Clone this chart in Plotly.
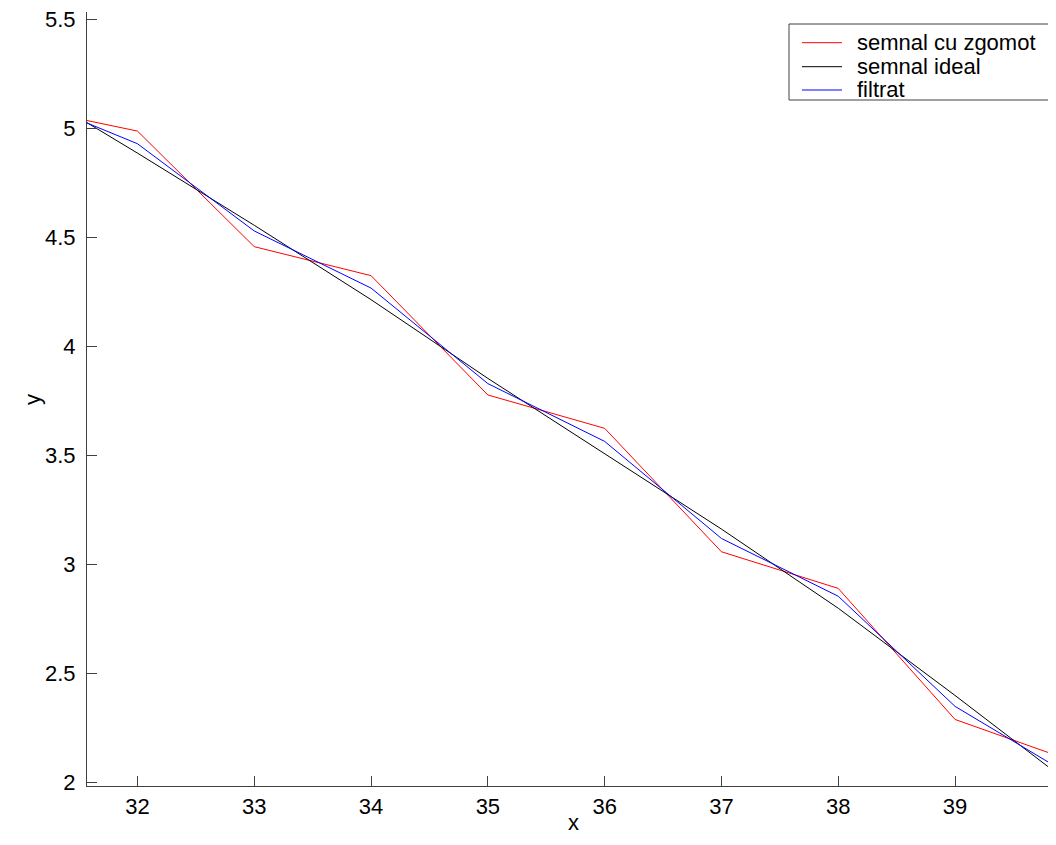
import plotly.graph_objects as go

x_vals = [31, 32, 33, 34, 35, 36, 37, 38, 39, 40]
noisy = [5.10, 4.988, 4.458, 4.325, 3.778, 3.625, 3.059, 2.891, 2.29, 2.10]
ideal = [5.21, 4.887, 4.556, 4.215, 3.854, 3.51, 3.163, 2.80, 2.40, 1.99]
filtered = [5.15, 4.93, 4.53, 4.268, 3.83, 3.565, 3.12, 2.855, 2.35, 2.03]

series_names = ["semnal cu zgomot", "semnal ideal", "filtrat"]
series_colors = ["#ff0000", "#000000", "#0000ff"]

x_ticks = [32, 33, 34, 35, 36, 37, 38, 39]
y_ticks = [2, 2.5, 3, 3.5, 4, 4.5, 5, 5.5]
y_tick_text = ["2", "2.5", "3", "3.5", "4", "4.5", "5", "5.5"]

font_family = "Liberation Sans, Arial, sans-serif"
axis_color = "#404040"
fsize = 22

# page offset of the figure div (default body margin)
OFF = 8
FIG_W, FIG_H = 1056 - OFF, 845 - OFF

fig = go.Figure()
for name, ys, col in zip(series_names, [noisy, ideal, filtered], series_colors):
    fig.add_trace(go.Scatter(x=x_vals, y=ys, mode="lines", name=name,
                             line=dict(color=col, width=1), showlegend=False))

# plot area in page pixels: x 87..1056, y 12..786
L, R, T, B = 87, 1056, 12, 786
W, H = R - L, B - T

def px(xp):
    return (xp - L) / W

def py(yp):
    return (B - yp) / H

shapes = []
annotations = []
# legend box
shapes.append(dict(type="rect", xref="paper", yref="paper",
                   x0=px(789), x1=px(1055.5), y0=py(100), y1=py(24),
                   line=dict(color=axis_color, width=1), fillcolor="white",
                   layer="above"))
row_y = [42.7, 66.7, 90]
for name, col, ry in zip(series_names, series_colors, row_y):
    shapes.append(dict(type="line", xref="paper", yref="paper",
                       x0=px(802), x1=px(842), y0=py(ry), y1=py(ry),
                       line=dict(color=col, width=1), layer="above"))
    annotations.append(dict(text=name, xref="paper", yref="paper",
                            x=px(855), y=py(ry), xanchor="left", yanchor="middle",
                            showarrow=False,
                            font=dict(family=font_family, size=fsize, color="black")))

# axis titles
annotations.append(dict(text="x", xref="paper", yref="paper", x=px(573), y=py(822),
                        xanchor="center", yanchor="middle", showarrow=False,
                        font=dict(family=font_family, size=fsize, color="black")))
annotations.append(dict(text="y", xref="paper", yref="paper", x=px(33), y=py(400),
                        xanchor="center", yanchor="middle", showarrow=False,
                        textangle=-90,
                        font=dict(family=font_family, size=fsize, color="black")))

fig.update_layout(
    width=FIG_W, height=FIG_H,
    margin=dict(l=L - OFF, r=1056 - R, t=T - OFF, b=845 - B, autoexpand=False),
    paper_bgcolor="white", plot_bgcolor="white",
    font=dict(family=font_family, size=fsize, color="black"),
    showlegend=False,
    shapes=shapes,
    annotations=annotations,
)
fig.update_xaxes(
    range=[31.568, 39.864], tickvals=x_ticks, ticks="inside", ticklen=10,
    tickcolor=axis_color, showline=True, linecolor=axis_color, linewidth=1,
    mirror=False, showgrid=False, zeroline=False, automargin=False,
    tickfont=dict(size=fsize), ticklabelstandoff=1, ticklabeloverflow="allow",
)
fig.update_yaxes(
    range=[1.985, 5.534], tickvals=y_ticks, ticktext=y_tick_text, ticks="inside",
    ticklen=10, tickcolor=axis_color, showline=True, linecolor=axis_color,
    linewidth=1, mirror=False, showgrid=False, zeroline=False, automargin=False,
    tickfont=dict(size=fsize), ticklabelstandoff=6, ticklabeloverflow="allow",
)

fig.write_html("out.html")
